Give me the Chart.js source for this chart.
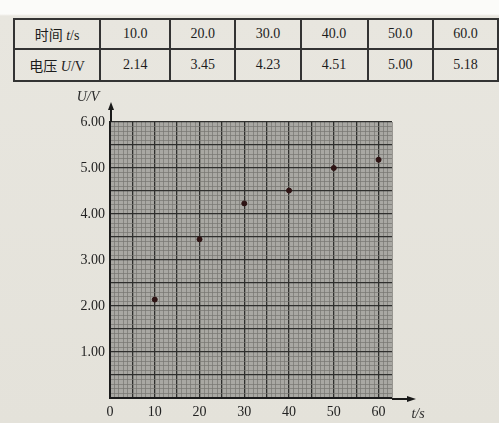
<!DOCTYPE html>
<html>
<head>
<meta charset="utf-8">
<script src="https://cdn.jsdelivr.net/npm/chart.js@4"></script>
<style>
html,body{margin:0;padding:0;width:499px;height:423px;overflow:hidden;
  background:linear-gradient(#fbfbf9 0,#fbfbf9 14px,#e8e6df 16px,#e4e2da 100%);}
#tbl{position:absolute;left:13px;top:18px;border-collapse:collapse;
  font-family:"Liberation Serif","Noto Sans CJK SC",serif;font-size:14px;color:#1c1c1c;}
#tbl td{border:2px solid #333;text-align:center;padding:0;}
#wrap{position:absolute;left:0;top:0;width:499px;height:423px;}
</style>
</head>
<body>
<table id="tbl"></table>
<div id="wrap"><canvas id="chart" width="499" height="423"></canvas></div>
<script>
// measured data (table + plotted points)
const times = [10.0, 20.0, 30.0, 40.0, 50.0, 60.0];
const volts = [2.14, 3.45, 4.23, 4.51, 5.00, 5.18];
const timeLabels = ["10.0","20.0","30.0","40.0","50.0","60.0"];
const voltLabels = ["2.14","3.45","4.23","4.51","5.00","5.18"];
const colW = [87,70,65,65,67,65,65];

let tbl = document.getElementById("tbl");
function row(head, cells, h){
  let tr = document.createElement("tr");
  [head].concat(cells).forEach((t,i)=>{
    let td = document.createElement("td");
    td.style.width = colW[i]+"px";
    td.style.height = h+"px";
    td.innerHTML = t;
    tr.appendChild(td);
  });
  tbl.appendChild(tr);
}
row('时间 <i>t</i>/s', timeLabels, 28);
row('电压 <i>U</i>/V', voltLabels, 30);

const major = v=>Math.round(v)%5===0;
const paper = {
  id:"paper",
  beforeDraw(ch){
    let a = ch.chartArea, c = ch.ctx;
    c.save(); c.fillStyle="#a9a8a3"; c.fillRect(a.left,a.top,a.right-a.left,a.bottom-a.top); c.restore();
  },
  afterDraw(ch){
    let a = ch.chartArea, c = ch.ctx;
    c.save();
    c.strokeStyle="#1a1a1a"; c.fillStyle="#1a1a1a"; c.lineWidth=2;
    // y arrow
    c.beginPath(); c.moveTo(a.left+1,a.top); c.lineTo(a.left+1,a.top-17); c.stroke();
    c.beginPath(); c.moveTo(a.left+1,a.top-20); c.lineTo(a.left-2,a.top-12); c.lineTo(a.left+4,a.top-12); c.closePath(); c.fill();
    // x arrow
    c.beginPath(); c.moveTo(a.right,a.bottom+1); c.lineTo(a.right+20,a.bottom+1); c.stroke();
    c.beginPath(); c.moveTo(a.right+24,a.bottom+1); c.lineTo(a.right+15,a.bottom-2); c.lineTo(a.right+15,a.bottom+4); c.closePath(); c.fill();
    c.font="italic 14px 'Liberation Serif'"; c.fillStyle="#2a2a2a"; c.textAlign="center"; c.textBaseline="middle";
    c.fillText("U/V", 88, 97);
    c.fillText("t/s", a.right+26, a.bottom+16);
    c.restore();
  }
};

let chart = new Chart(document.getElementById("chart").getContext("2d"), {
  type:"scatter",
  data:{datasets:[{data:times.map((t,i)=>({x:t,y:volts[i]})),
    backgroundColor:"#2e1414", borderColor:"#2e1414", pointRadius:2.5, pointHoverRadius:2.5}]},
  options:{
    responsive:false, animation:false, devicePixelRatio:1,
    layout:{padding:{top:122,right:107,left:0,bottom:0}},
    plugins:{legend:{display:false}, tooltip:{enabled:false}},
    scales:{
      x:{type:"linear", min:0, max:63,
        afterFit:s=>{s.height=25;},
        border:{color:"#1a1a1a", width:2},
        grid:{drawTicks:false,
          color:c=>major(c.tick.value)?"#2f2f2d":"#777671",
          lineWidth:c=>major(c.tick.value)?1.3:0.7},
        ticks:{stepSize:1, autoSkip:false, maxRotation:0, padding:6, maxTicksLimit:100,
          font:{family:"Liberation Serif", size:14}, color:"#222",
          callback:v=>v%10===0 && v<=60 ? String(v) : ""}},
      y:{type:"linear", min:0, max:6,
        afterFit:s=>{s.width=110;},
        border:{color:"#1a1a1a", width:2},
        grid:{drawTicks:false,
          color:c=>major(c.tick.value*10)?"#2f2f2d":"#777671",
          lineWidth:c=>major(c.tick.value*10)?1.3:0.7},
        ticks:{stepSize:0.1, autoSkip:false, padding:5, maxTicksLimit:100,
          font:{family:"Liberation Serif", size:14}, color:"#222",
          callback:v=>{let r=Math.round(v*10); return r%10===0 && r>0 ? (r/10).toFixed(2) : "";}}}
    }
  },
  plugins:[paper]
});
</script>
</body>
</html>
